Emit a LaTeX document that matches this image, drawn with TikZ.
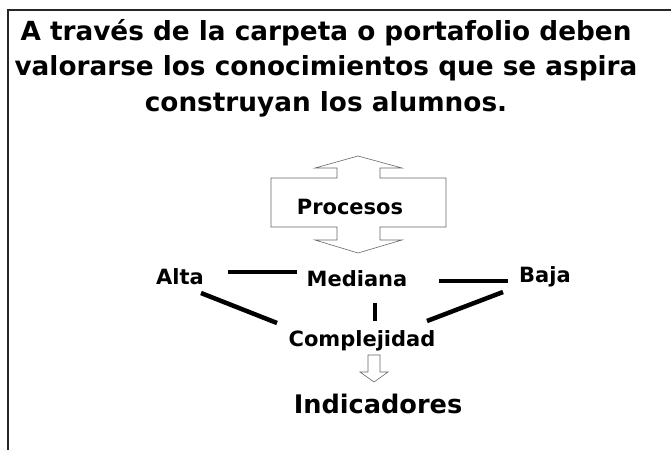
\documentclass[tikz,border=0pt]{standalone}
\usepackage{fontspec}
\setmainfont{DejaVu Sans}
\begin{document}
\begin{tikzpicture}[x=1pt,y=-1pt,
  lbl/.style={font=\bfseries\fontsize{21}{24}\selectfont, inner sep=0pt},
  title/.style={font=\bfseries\fontsize{26.3}{35.5}\selectfont, inner sep=0pt, align=center},
  thick line/.style={line width=4.5pt, black},
  outline/.style={draw=gray!80!black, line width=0.6pt, fill=white}]
\useasboundingbox (0,0) rectangle (671,450);
% frame
\draw[line width=2pt, black!85] (671,10) -- (8,10) -- (8,450);
% title
\node[title] (t) at (326,68) {A través de la carpeta o portafolio deben\\valorarse los conocimientos que se aspira\\construyan los alumnos.};
% procesos double arrow
\draw[outline] (358,156) -- (402,168) -- (380,168) -- (380,178) -- (446,178) -- (446,227)
  -- (380,227) -- (380,240) -- (402,240) -- (358,253) -- (315,240) -- (337,240) -- (337,227)
  -- (271,227) -- (271,178) -- (337,178) -- (337,168) -- (315,168) -- cycle;
\node[lbl] (p) at (350,207) {Procesos};
% labels
\node[lbl] (alta) at (180,277) {Alta};
\node[lbl] (med) at (357,279) {Mediana};
\node[lbl] (baja) at (545,277) {Baja};
\node[lbl] (comp) at (362,341) {Complejidad};
\node[font=\bfseries\fontsize{25.6}{28}\selectfont, inner sep=0pt] (ind) at (378,404) {Indicadores};
% connector endpoints
\coordinate (am1) at (228,272); \coordinate (am2) at (297,272);
\coordinate (mb1) at (439,281); \coordinate (mb2) at (508,281);
\coordinate (ac1) at (201,293); \coordinate (ac2) at (277,323);
\coordinate (mc1) at (375,303); \coordinate (mc2) at (375,321);
\coordinate (bc1) at (503,292); \coordinate (bc2) at (427,321);
\draw[thick line] (am1) -- (am2);
\draw[thick line] (mb1) -- (mb2);
\draw[thick line] (ac1) -- (ac2);
\draw[thick line] (mc1) -- (mc2);
\draw[thick line] (bc1) -- (bc2);
% small down arrow
\draw[outline] (368,355) -- (380,355) -- (380,372) -- (388,372) -- (374,382) -- (360,372) -- (368,372) -- cycle;
\end{tikzpicture}
\end{document}
